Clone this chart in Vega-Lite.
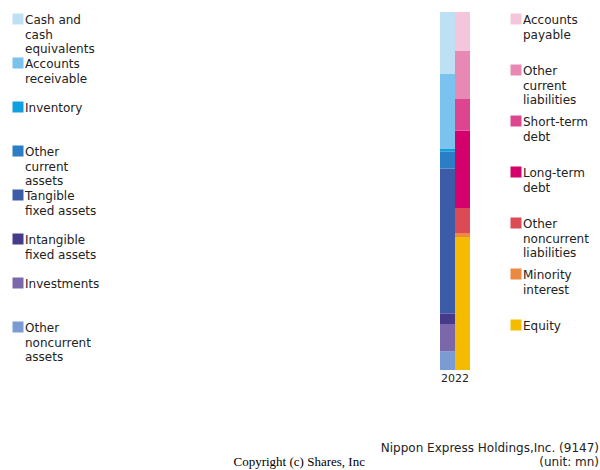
{
  "$schema": "https://vega.github.io/schema/vega-lite/v6.json",
  "autosize": {"type": "none"},
  "padding": {"left": 440, "top": 12, "right": 130, "bottom": 100},
  "width": 30,
  "height": 358,
  "background": "white",
  "data": {
    "values": [
      {"year": "2022", "side": "Assets", "item": "Cash and cash equivalents", "value": 372000, "rank": 1},
      {"year": "2022", "side": "Assets", "item": "Accounts receivable", "value": 450000, "rank": 2},
      {"year": "2022", "side": "Assets", "item": "Inventory", "value": 16000, "rank": 3},
      {"year": "2022", "side": "Assets", "item": "Other current assets", "value": 102000, "rank": 4},
      {"year": "2022", "side": "Assets", "item": "Tangible fixed assets", "value": 868000, "rank": 5},
      {"year": "2022", "side": "Assets", "item": "Intangible fixed assets", "value": 64000, "rank": 6},
      {"year": "2022", "side": "Assets", "item": "Investments", "value": 166000, "rank": 7},
      {"year": "2022", "side": "Assets", "item": "Other noncurrent assets", "value": 110000, "rank": 8},
      {"year": "2022", "side": "Liabilities", "item": "Accounts payable", "value": 234000, "rank": 1},
      {"year": "2022", "side": "Liabilities", "item": "Other current liabilities", "value": 288000, "rank": 2},
      {"year": "2022", "side": "Liabilities", "item": "Short-term debt", "value": 190000, "rank": 3},
      {"year": "2022", "side": "Liabilities", "item": "Long-term debt", "value": 464000, "rank": 4},
      {"year": "2022", "side": "Liabilities", "item": "Other noncurrent liabilities", "value": 150000, "rank": 5},
      {"year": "2022", "side": "Liabilities", "item": "Minority interest", "value": 24000, "rank": 6},
      {"year": "2022", "side": "Liabilities", "item": "Equity", "value": 798000, "rank": 7}
    ]
  },
  "title": {
    "text": ["Nippon Express Holdings,Inc. (9147)", "(unit: mn)"],
    "orient": "bottom",
    "anchor": "end",
    "frame": "group",
    "align": "right",
    "dx": 129,
    "offset": -25,
    "font": "DejaVu Sans",
    "fontSize": 12,
    "fontWeight": "normal",
    "color": "#222",
    "lineHeight": 14
  },
  "config": {
    "view": {"stroke": null},
    "legend": {
      "orient": "none",
      "title": null,
      "symbolType": "square",
      "symbolSize": 121,
      "symbolStrokeWidth": 0,
      "labelFont": "DejaVu Sans",
      "labelFontSize": 12,
      "labelColor": "#222",
      "labelBaseline": "top",
      "labelOffset": 1,
      "labelLimit": 300,
      "gridAlign": "all",
      "padding": 0
    }
  },
  "encoding": {
    "x": {
      "field": "year",
      "type": "nominal",
      "scale": {"paddingInner": 0, "paddingOuter": 0},
      "axis": {
        "title": "Copyright (c) Shares, Inc",
        "titleFont": "Liberation Serif",
        "titleFontSize": 13,
        "titleFontWeight": "normal",
        "titleColor": "#000",
        "titleX": -207,
        "titleY": 95,
        "titleAlign": "left",
        "titleBaseline": "alphabetic",
        "labelAngle": 0,
        "labelFont": "DejaVu Sans",
        "labelFontSize": 11,
        "labelColor": "#222",
        "ticks": false,
        "domain": false,
        "labelPadding": 2
      }
    },
    "xOffset": {"field": "side", "type": "nominal", "scale": {"domain": ["Assets", "Liabilities"], "paddingInner": 0, "paddingOuter": 0}},
    "y": {"field": "value", "type": "quantitative", "stack": "zero", "axis": null, "scale": {"domain": [0, 2148000], "nice": false}},
    "order": {"field": "rank", "type": "quantitative", "sort": "descending"}
  },
  "layer": [
    {
      "transform": [{"filter": "datum.side == 'Assets'"}],
      "mark": {"type": "bar", "strokeWidth": 0},
      "encoding": {
        "color": {
          "field": "item",
          "type": "nominal",
          "scale": {
            "domain": ["Cash and cash equivalents", "Accounts receivable", "Inventory", "Other current assets", "Tangible fixed assets", "Intangible fixed assets", "Investments", "Other noncurrent assets"],
            "range": ["#bee0f5", "#79c3ee", "#0fa0e0", "#2b7dc6", "#3d5ca8", "#463a8a", "#7a68ab", "#7b9bd3"]
          },
          "legend": {
            "legendX": -428,
            "legendY": 1,
            "rowPadding": 1,
            "labelExpr": "datum.label == 'Cash and cash equivalents' ? ['Cash and','cash','equivalents'] : datum.label == 'Accounts receivable' ? ['Accounts','receivable'] : datum.label == 'Other current assets' ? ['Other','current','assets'] : datum.label == 'Tangible fixed assets' ? ['Tangible','fixed assets'] : datum.label == 'Intangible fixed assets' ? ['Intangible','fixed assets'] : datum.label == 'Other noncurrent assets' ? ['Other','noncurrent','assets'] : datum.label",
            "encode": {"labels": {"update": {"dy": {"value": -4}, "lineHeight": {"value": 14.7}}}}
          }
        }
      }
    },
    {
      "transform": [{"filter": "datum.side == 'Liabilities'"}],
      "mark": {"type": "bar", "strokeWidth": 0},
      "encoding": {
        "color": {
          "field": "item",
          "type": "nominal",
          "scale": {
            "domain": ["Accounts payable", "Other current liabilities", "Short-term debt", "Long-term debt", "Other noncurrent liabilities", "Minority interest", "Equity"],
            "range": ["#f4c6dc", "#e889b4", "#dd4590", "#d4006b", "#dc4b55", "#ec8840", "#f5bb00"]
          },
          "legend": {
            "legendX": 70,
            "legendY": 1,
            "rowPadding": 8,
            "labelExpr": "datum.label == 'Accounts payable' ? ['Accounts','payable'] : datum.label == 'Other current liabilities' ? ['Other','current','liabilities'] : datum.label == 'Short-term debt' ? ['Short-term','debt'] : datum.label == 'Long-term debt' ? ['Long-term','debt'] : datum.label == 'Other noncurrent liabilities' ? ['Other','noncurrent','liabilities'] : datum.label == 'Minority interest' ? ['Minority','interest'] : datum.label",
            "encode": {"labels": {"update": {"dy": {"value": -4}, "lineHeight": {"value": 14.7}}}}
          }
        }
      }
    }
  ],
  "resolve": {"scale": {"color": "independent"}}
}
